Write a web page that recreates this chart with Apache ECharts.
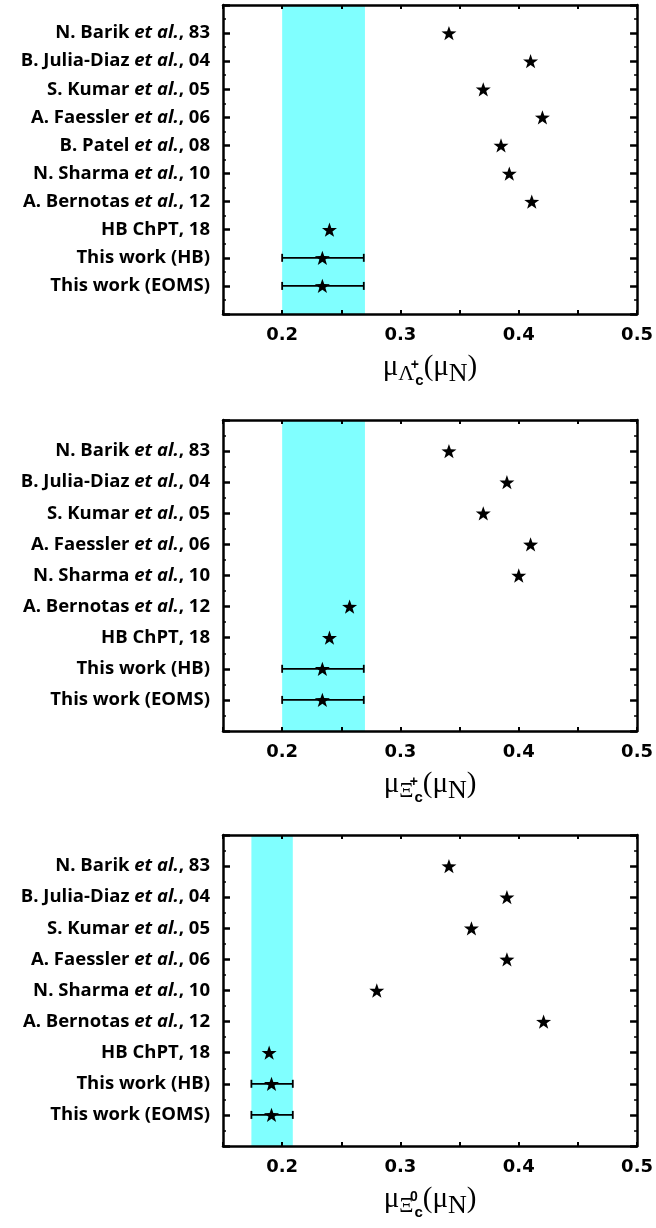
<!DOCTYPE html>
<html><head><meta charset="utf-8">
<script src="https://cdn.jsdelivr.net/npm/echarts@6/dist/echarts.min.js"></script>
<style>html,body{margin:0;padding:0;background:#fff}#c{width:656px;height:1228px}</style>
</head><body><div id="c"></div>
<script>
// ---- data ----
const cats1 = ["N. Barik et al., 83","B. Julia-Diaz et al., 04","S. Kumar et al., 05","A. Faessler et al., 06","B. Patel et al., 08","N. Sharma et al., 10","A. Bernotas et al., 12","HB ChPT, 18","This work (HB)","This work (EOMS)"];
const vals1 = [0.341,0.41,0.37,0.42,0.385,0.392,0.411,0.24,0.234,0.234];
const err1 = [[8,0.2,0.269],[9,0.2,0.269]]; // [category index, low, high]
const band1 = [0.2,0.27];

const cats2 = ["N. Barik et al., 83","B. Julia-Diaz et al., 04","S. Kumar et al., 05","A. Faessler et al., 06","N. Sharma et al., 10","A. Bernotas et al., 12","HB ChPT, 18","This work (HB)","This work (EOMS)"];
const vals2 = [0.341,0.39,0.37,0.41,0.40,0.257,0.24,0.234,0.234];
const err2 = [[7,0.2,0.269],[8,0.2,0.269]];
const band2 = [0.2,0.27];

const cats3 = cats2.slice();
const vals3 = [0.341,0.39,0.36,0.39,0.28,0.421,0.189,0.191,0.191];
const err3 = [[7,0.174,0.209],[8,0.174,0.209]];
const band3 = [0.174,0.209];

const xTickLabels = ["0.2","0.3","0.4","0.5"];
// ---- chart ----
const STAR = 'path://M0,-10 L2.35,-3.24 L9.51,-3.09 L3.8,1.24 L5.88,8.09 L0,4 L-5.88,8.09 L-3.8,1.24 L-9.51,-3.09 L-2.35,-3.24 Z';
const panels = [
  {cats:cats1, vals:vals1, err:err1, band:band1, top:5, height:309,
   name:'{mu|μ}{L|Λ}{pl|+}{c|c}{mu|(μ}{N|N}{mu|)}'},
  {cats:cats2, vals:vals2, err:err2, band:band2, top:420, height:311,
   name:'{mu|μ}{L|Ξ}{pl|+}{c|c}{mu|(μ}{N|N}{mu|)}'},
  {cats:cats3, vals:vals3, err:err3, band:band3, top:835, height:311,
   name:'{mu|μ}{L|Ξ}{pl|0}{c|c}{mu|(μ}{N|N}{mu|)}'}
];
const nameRich = {
  mu:{fontFamily:'Liberation Serif',fontSize:29,color:'#000'},
  L:{fontFamily:'Liberation Serif',fontSize:22,color:'#000',padding:[14,0,0,0]},
  pl:{fontFamily:'Liberation Sans',fontWeight:'bold',fontSize:14,color:'#000',width:1,padding:[0,0,4,0]},
  c:{fontFamily:'Liberation Sans',fontWeight:'bold',fontSize:15,color:'#000',padding:[26,0,0,0]},
  N:{fontFamily:'Liberation Serif',fontSize:26,color:'#000',padding:[14,0,0,0]}
};
const labelRich = {
  b:{fontFamily:'Open Sans',fontWeight:'bold',fontSize:18.5,color:'#000'},
  i:{fontFamily:'Open Sans',fontWeight:'bold',fontStyle:'italic',fontSize:18.5,color:'#000'}
};
const mkLine=()=>({show:true,onZero:false,lineStyle:{color:'#000',width:2.5}});
const mkXTick=()=>({show:true,inside:true,length:4,lineStyle:{color:'#000',width:2}});
const mkYTick=()=>({show:true,inside:true,length:7,lineStyle:{color:'#000',width:2.5}});
const mkYMinor=()=>({show:true,splitNumber:2,length:3,lineStyle:{color:'#000',width:1.5}});
const grid=[],xAxis=[],yAxis=[],series=[];
panels.forEach((p,k)=>{
  grid.push({left:223,width:415,top:p.top,height:p.height,show:false});
  const n=p.cats.length;
  xAxis.push({type:'value',gridIndex:k,z:10,min:0.15,max:0.5,interval:0.05,position:'bottom',
    axisLine:mkLine(),splitLine:{show:false},axisTick:mkXTick(),
    axisLabel:{margin:12,fontFamily:'DejaVu Sans',fontWeight:'bold',fontSize:18,color:'#000',
      formatter:v=>{const s=v.toFixed(1);return (Math.abs(v*10-Math.round(v*10))<1e-6 && xTickLabels.includes(s))?s:'';}},
    name:p.name,nameLocation:'middle',nameGap:33,nameTextStyle:{rich:nameRich}});
  xAxis.push({type:'value',gridIndex:k,z:10,min:0.15,max:0.5,interval:0.05,position:'top',
    axisLine:mkLine(),splitLine:{show:false},axisLabel:{show:false},axisTick:mkXTick()});
  yAxis.push({type:'value',gridIndex:k,z:10,min:0,max:n+1,interval:1,inverse:true,position:'left',
    axisLine:mkLine(),splitLine:{show:false},axisTick:mkYTick(),minorTick:mkYMinor(),
    axisLabel:{margin:13,formatter:v=>{const c=p.cats[v-1];if(!c)return '';
      const parts=c.split('et al.');
      return parts.length>1?'{b|'+parts[0]+'}{i|et al.}{b|'+parts[1]+'}':'{b|'+c+'}';},rich:labelRich}});
  yAxis.push({type:'value',gridIndex:k,z:10,min:0,max:n+1,interval:1,inverse:true,position:'right',
    axisLine:mkLine(),splitLine:{show:false},axisTick:mkYTick(),minorTick:mkYMinor(),axisLabel:{show:false}});
  // band
  series.push({type:'scatter',xAxisIndex:2*k,yAxisIndex:2*k,data:[],silent:true,z:1,
    markArea:{silent:true,itemStyle:{color:'#80ffff',opacity:1},data:[[{xAxis:p.band[0]},{xAxis:p.band[1]}]]}});
  // error bars
  series.push({type:'custom',xAxisIndex:2*k,yAxisIndex:2*k,z:3,
    data:p.err.map(e=>[e[1],e[2],e[0]+1]),
    encode:{x:[0,1],y:2},
    renderItem:(params,api)=>{
      const a=api.coord([api.value(0),api.value(2)]);
      const b=api.coord([api.value(1),api.value(2)]);
      const st={stroke:'#000',lineWidth:1.8};
      return {type:'group',children:[
        {type:'line',shape:{x1:a[0],y1:a[1],x2:b[0],y2:b[1]},style:st},
        {type:'line',shape:{x1:a[0],y1:a[1]-4,x2:a[0],y2:a[1]+4},style:st},
        {type:'line',shape:{x1:b[0],y1:b[1]-4,x2:b[0],y2:b[1]+4},style:st}]};
    }});
  // stars
  series.push({type:'scatter',xAxisIndex:2*k,yAxisIndex:2*k,z:5,symbol:STAR,symbolSize:15,symbolKeepAspect:true,
    itemStyle:{color:'#000',opacity:1},
    data:p.vals.map((v,i)=>[v,i+1])});
});
const chart=echarts.init(document.getElementById('c'),null,{renderer:'canvas'});
chart.setOption({animation:false,grid,xAxis,yAxis,series});
</script></body></html>
